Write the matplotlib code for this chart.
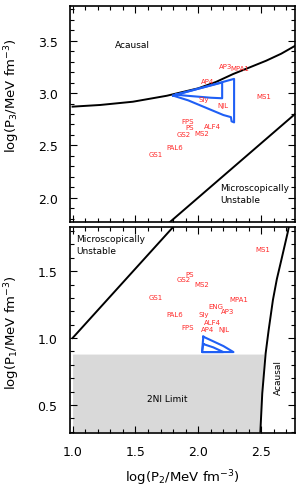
import numpy as np
import matplotlib
matplotlib.use('Agg')
import matplotlib.pyplot as plt
from matplotlib.ticker import MultipleLocator

plt.rcParams['font.family'] = ['DejaVu Sans']

# EOS labels, (log P2, log P3) in top panel and (log P2, log P1) in bottom panel
top_names = ['AP3', 'MPA1', 'AP4', 'Sly', 'NJL', 'MS1', 'FPS', 'PS', 'ALF4', 'GS2', 'MS2', 'PAL6', 'GS1']
top_x = [2.22, 2.33, 2.07, 2.045, 2.20, 2.52, 1.913, 1.932, 2.11, 1.882, 2.027, 1.809, 1.659]
top_y = [3.254, 3.235, 3.117, 2.943, 2.886, 2.969, 2.73, 2.679, 2.689, 2.61, 2.619, 2.489, 2.416]

bot_names = ['MS1', 'GS2', 'PS', 'MS2', 'GS1', 'MPA1', 'ENG', 'AP3', 'PAL6', 'Sly', 'ALF4', 'FPS', 'AP4', 'NJL']
bot_x = [2.512, 1.882, 1.935, 2.027, 1.659, 2.32, 2.142, 2.236, 1.809, 2.045, 2.11, 1.913, 2.071, 2.208]
bot_y = [1.662, 1.445, 1.477, 1.407, 1.305, 1.295, 1.24, 1.20, 1.182, 1.182, 1.12, 1.082, 1.07, 1.065]

# boundaries
acausal_top_x = [1.0, 1.22, 1.48, 1.75, 2.0, 2.14, 2.277, 2.41, 2.54, 2.66, 2.77]
acausal_top_y = [2.87, 2.886, 2.917, 2.974, 3.045, 3.105, 3.181, 3.245, 3.308, 3.375, 3.45]
unstable_top_x = [1.775, 2.77]
unstable_top_y = [1.77, 2.80]

unstable_bot_x = [1.0, 1.80]
unstable_bot_y = [1.0, 1.83]
acausal_bot_x = [2.494, 2.509, 2.536, 2.56, 2.594, 2.625, 2.66, 2.713, 2.72]
acausal_bot_y = [0.30, 0.585, 0.885, 1.06, 1.285, 1.44, 1.58, 1.795, 1.83]

# confidence contours
c1_outer_x = [1.80, 2.285, 2.285, 2.265, 2.26, 2.20, 2.12, 2.02, 1.92, 1.80]
c1_outer_y = [2.975, 3.135, 2.72, 2.73, 2.77, 2.79, 2.83, 2.88, 2.93, 2.975]
c1_inner_x = [1.82, 2.19, 2.19, 2.10, 2.00, 1.90, 1.82]
c1_inner_y = [2.985, 3.10, 2.95, 2.955, 2.965, 2.975, 2.985]

c2_outer_x = [2.04, 2.12, 2.20, 2.28, 2.03, 2.04]
c2_outer_y = [1.01, 0.975, 0.94, 0.895, 0.895, 1.01]
c2_inner_x = [2.04, 2.12, 2.20, 2.03, 2.04]
c2_inner_y = [0.955, 0.93, 0.895, 0.895, 0.955]

limit_2ni = 0.88

red = '#ff2a2a'
blue = '#1f5ff5'

fig = plt.figure(figsize=(3.02, 4.89), dpi=100)
ax1 = fig.add_axes([0.232, 0.544, 0.745, 0.4417])
ax2 = fig.add_axes([0.232, 0.1125, 0.745, 0.4212])

for ax in (ax1, ax2):
    ax.set_xlim(0.98, 2.77)
    ax.xaxis.set_major_locator(MultipleLocator(0.5))
    ax.xaxis.set_minor_locator(MultipleLocator(0.1))
    ax.yaxis.set_major_locator(MultipleLocator(0.5))
    ax.yaxis.set_minor_locator(MultipleLocator(0.1))
    ax.tick_params(which='both', direction='in', top=True, right=True, width=0.8,
                   labelsize=9, pad=9)
    ax.tick_params(which='major', length=5)
    ax.tick_params(which='minor', length=3)
    for s in ax.spines.values():
        s.set_linewidth(1.2)

# top panel
ax1.set_ylim(1.77, 3.83)
ax1.tick_params(labelbottom=False)
ax1.plot(acausal_top_x, acausal_top_y, color='black', lw=1.4)
ax1.plot(unstable_top_x, unstable_top_y, color='black', lw=1.4)
ax1.plot(c1_outer_x, c1_outer_y, color=blue, lw=1.5)
ax1.plot(c1_inner_x, c1_inner_y, color=blue, lw=1.5)
for n, x, y in zip(top_names, top_x, top_y):
    ax1.text(x, y, n, color=red, fontsize=5, ha='center', va='center')
ax1.text(1.337, 3.467, 'Acausal', fontsize=6.5, ha='left', va='center')
ax1.text(2.176, 2.04, 'Microscopically\nUnstable', fontsize=6.5, ha='left', va='center', linespacing=1.4)
ax1.set_ylabel('log(P$_3$/MeV fm$^{-3}$)', fontsize=9.5)
ax1.yaxis.set_label_coords(-0.215, 0.588)

# bottom panel
ax2.set_ylim(0.29, 1.83)
ax2.fill_betweenx([0.30, limit_2ni], 1.0, [2.494, 2.52], color='#d9d9d9', lw=0)
ax2.plot(unstable_bot_x, unstable_bot_y, color='black', lw=1.4)
ax2.plot(acausal_bot_x, acausal_bot_y, color='black', lw=1.4)
ax2.plot(c2_outer_x, c2_outer_y, color=blue, lw=1.5)
ax2.plot(c2_inner_x, c2_inner_y, color=blue, lw=1.5)
for n, x, y in zip(bot_names, bot_x, bot_y):
    ax2.text(x, y, n, color=red, fontsize=5, ha='center', va='center')
ax2.text(1.03, 1.70, 'Microscopically\nUnstable', fontsize=6.5, ha='left', va='center', linespacing=1.4)
ax2.text(1.756, 0.55, '2NI Limit', fontsize=6.5, ha='center', va='center')
ax2.text(2.635, 0.71, 'Acausal', fontsize=6.5, ha='center', va='center', rotation=90)
ax2.set_ylabel('log(P$_1$/MeV fm$^{-3}$)', fontsize=9.5)
ax2.yaxis.set_label_coords(-0.215, 0.49)
ax2.set_xlabel('log(P$_2$/MeV fm$^{-3}$)', fontsize=9.5)
ax2.xaxis.set_label_coords(0.5, -0.165)

fig.savefig('out.png', dpi=100)
